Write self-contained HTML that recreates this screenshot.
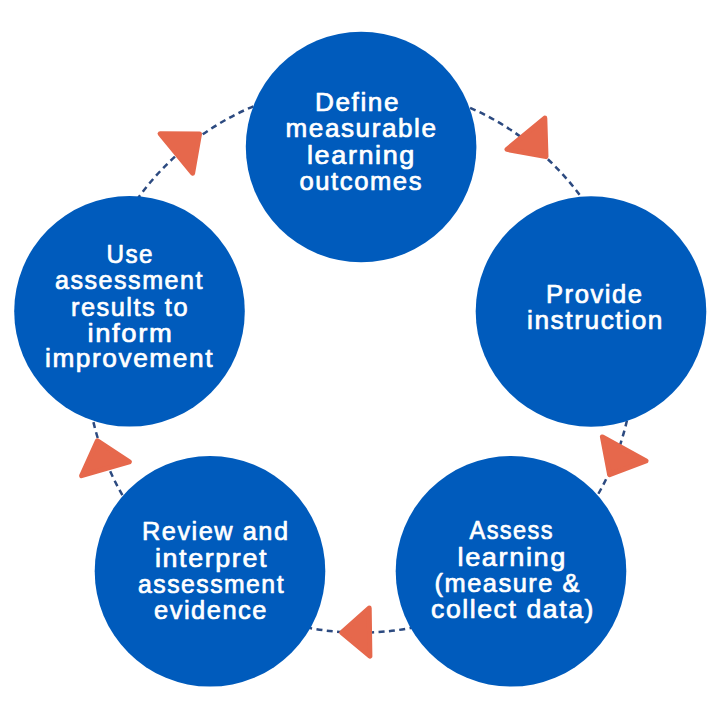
<!DOCTYPE html>
<html><head><meta charset="utf-8"><style>
html,body{margin:0;padding:0;background:#fff;}
body{width:720px;height:718px;overflow:hidden;}
svg{display:block;}
text{font-family:"Liberation Sans",sans-serif;font-weight:normal;font-size:25px;fill:#fff;stroke:#fff;stroke-width:0.7px;stroke-linejoin:round;letter-spacing:1.5px;}
</style></head><body>
<svg width="720" height="718" viewBox="0 0 720 718">
<circle cx="360" cy="358.7" r="274" fill="none" stroke="#2c4a80" stroke-width="2.5" stroke-dasharray="6 4.4"/>
<circle cx="361.1" cy="147" r="115.3" fill="#005bbc"/>
<circle cx="591" cy="311.5" r="115.3" fill="#005bbc"/>
<circle cx="511" cy="571.3" r="115.3" fill="#005bbc"/>
<circle cx="210" cy="571.3" r="115.3" fill="#005bbc"/>
<circle cx="129.5" cy="311.3" r="115.3" fill="#005bbc"/>
<polygon points="160.1,133.7 199.5,134.1 192.6,173.2" fill="#e6684c" stroke="#e6684c" stroke-width="5" stroke-linejoin="round"/>
<polygon points="544.8,118.1 507.0,149.4 546.0,156.6" fill="#e6684c" stroke="#e6684c" stroke-width="5" stroke-linejoin="round"/>
<polygon points="602.4,436.9 646.0,461.0 609.6,474.6" fill="#e6684c" stroke="#e6684c" stroke-width="5" stroke-linejoin="round"/>
<polygon points="369.2,608.1 341.7,632.6 369.9,656.2" fill="#e6684c" stroke="#e6684c" stroke-width="5" stroke-linejoin="round"/>
<polygon points="97.4,440.8 129.3,461.9 81.6,475.7" fill="#e6684c" stroke="#e6684c" stroke-width="5" stroke-linejoin="round"/>
<text x="315.00" y="111.3" textLength="85.00" lengthAdjust="spacingAndGlyphs">Define</text>
<text x="285.50" y="137.0" textLength="152.00" lengthAdjust="spacingAndGlyphs">measurable</text>
<text x="307.00" y="163.5" textLength="109.00" lengthAdjust="spacingAndGlyphs">learning</text>
<text x="299.50" y="190.2" textLength="123.50" lengthAdjust="spacingAndGlyphs">outcomes</text>
<text x="546.00" y="303.0" textLength="97.50" lengthAdjust="spacingAndGlyphs">Provide</text>
<text x="527.00" y="328.5" textLength="137.00" lengthAdjust="spacingAndGlyphs">instruction</text>
<text x="469.50" y="539.4" textLength="84.50" lengthAdjust="spacingAndGlyphs">Assess</text>
<text x="457.50" y="565.8" textLength="109.50" lengthAdjust="spacingAndGlyphs">learning</text>
<text x="434.50" y="592.0" textLength="146.50" lengthAdjust="spacingAndGlyphs">(measure &amp;</text>
<text x="431.00" y="618.2" textLength="164.00" lengthAdjust="spacingAndGlyphs">collect data)</text>
<text x="142.00" y="540.3" textLength="147.50" lengthAdjust="spacingAndGlyphs">Review and</text>
<text x="155.00" y="566.6" textLength="113.00" lengthAdjust="spacingAndGlyphs">interpret</text>
<text x="138.00" y="593.0" textLength="147.00" lengthAdjust="spacingAndGlyphs">assessment</text>
<text x="154.00" y="619.4" textLength="114.00" lengthAdjust="spacingAndGlyphs">evidence</text>
<text x="106.50" y="262.9" textLength="47.50" lengthAdjust="spacingAndGlyphs">Use</text>
<text x="55.00" y="289.0" textLength="149.00" lengthAdjust="spacingAndGlyphs">assessment</text>
<text x="71.00" y="315.6" textLength="118.00" lengthAdjust="spacingAndGlyphs">results to</text>
<text x="87.50" y="341.9" textLength="86.00" lengthAdjust="spacingAndGlyphs">inform</text>
<text x="45.00" y="367.3" textLength="169.00" lengthAdjust="spacingAndGlyphs">improvement</text>
</svg>
</body></html>
